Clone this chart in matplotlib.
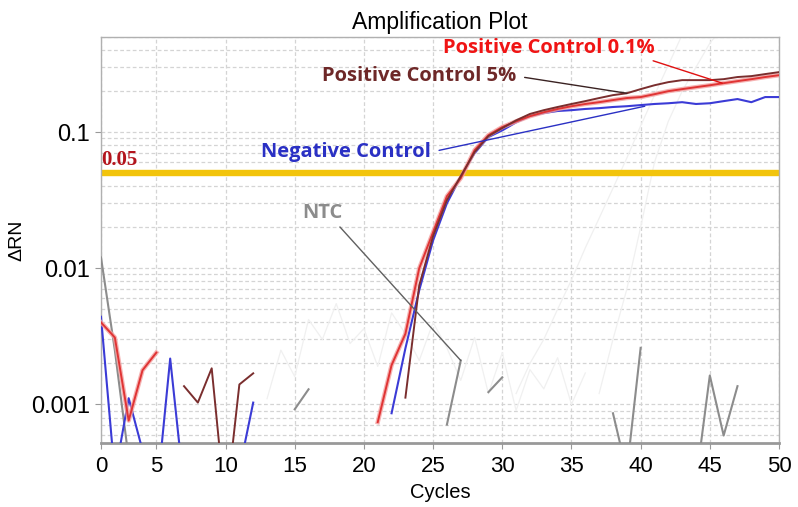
import numpy as np
import matplotlib
matplotlib.use("Agg")
import matplotlib.pyplot as plt
from matplotlib.ticker import FixedLocator, LogLocator, NullFormatter

nan = np.nan

# Cycle numbers (the instrument plot starts at cycle 1)
cycles = np.arange(1, 51)

# Delta Rn per cycle (nan = no point / negative)
ntc = [0.012, 0.0025, 0.0004, nan, nan, nan, nan, nan, nan, nan,
       nan, nan, nan, nan, 0.00092, 0.00129, nan, nan, nan, nan,
       nan, nan, nan, nan, nan, 0.00071, 0.0021, nan, 0.00123, 0.00158,
       nan, nan, nan, nan, nan, nan, nan, 0.00086, 0.00032, 0.0026,
       nan, nan, nan, 0.00027, 0.00163, 0.00059, 0.00136, nan, nan, nan]

pos_01 = [0.0040, 0.0031, 0.00076, 0.00178, 0.0024, nan, nan, nan, nan, nan,
          nan, nan, nan, nan, nan, nan, nan, nan, nan, nan,
          0.00074, 0.00194, 0.0033, 0.0100, 0.0184, 0.0338, 0.0459, 0.0737, 0.095, 0.109,
          0.120, 0.131, 0.140, 0.148, 0.155, 0.161, 0.166, 0.172, 0.178, 0.181,
          0.190, 0.200, 0.207, 0.214, 0.221, 0.229, 0.237, 0.245, 0.254, 0.262]

pos_5 = [nan, nan, nan, nan, nan, nan, 0.00136, 0.00103, 0.00184, 0.00017,
         0.0014, 0.00169, nan, nan, nan, nan, nan, nan, nan, nan,
         nan, nan, 0.00112, 0.0075, 0.0172, 0.0316, 0.0475, 0.0713, 0.0935, 0.107,
         0.122, 0.136, 0.145, 0.153, 0.161, 0.169, 0.178, 0.187, 0.193, 0.207,
         0.221, 0.233, 0.241, 0.241, 0.241, 0.245, 0.254, 0.258, 0.267, 0.276]

neg = [0.0044, 0.00030, 0.00111, 0.00046, 0.0002, 0.00217, 0.00024, nan, nan, nan,
       0.00033, 0.00103, nan, nan, nan, nan, nan, nan, nan, nan,
       nan, 0.00086, 0.00258, 0.0069, 0.016, 0.030, 0.047, 0.070, 0.092, 0.103,
       0.118, 0.131, 0.138, 0.143, 0.145, 0.148, 0.150, 0.153, 0.155, 0.158,
       0.161, 0.163, 0.166, 0.161, 0.163, 0.169, 0.175, 0.166, 0.181, 0.181]

# other wells, drawn very faintly in the background
faint_a = [nan] * 30 + [0.0012, 0.002, 0.003, 0.005, 0.0082, 0.0141, 0.0233, 0.0387,
                        0.0644, 0.111, 0.187, 0.31, 0.52, 0.8, nan, nan, nan, nan, nan, nan]
faint_b = [nan] * 36 + [0.0012, 0.003, 0.007, 0.02, 0.06, 0.12, 0.2, 0.3, 0.45, 0.6,
                        nan, nan, nan, nan]
faint_noise = [nan] * 12 + [0.0011, 0.0025, 0.0016, 0.0042, 0.0030, 0.0055, 0.0028, 0.0036,
                            0.0019, 0.0047, 0.0033, 0.0021, 0.0040, 0.0026, 0.0015, 0.0031,
                            0.0012, 0.0024, 0.0009, 0.0018, 0.0013, 0.0022, 0.0010, 0.0017,
                            nan, nan, nan, nan, nan, nan, nan, nan, nan, nan, nan, nan, nan, nan]

threshold = 0.05
x_ticks = [1, 5, 10, 15, 20, 25, 30, 35, 40, 45, 50]
x_tick_labels = ['0', '5', '10', '15', '20', '25', '30', '35', '40', '45', '50']
y_ticks = [0.001, 0.01, 0.1]
y_tick_labels = ['0.001', '0.01', '0.1']

plt.rcParams['font.family'] = ['Liberation Sans', 'DejaVu Sans']

fig = plt.figure(figsize=(7.98, 5.07), dpi=100)
ax = fig.add_axes([101 / 798, 64 / 507, 678 / 798, 406 / 507])
ax.set_yscale('log', nonpositive='mask')

# background wells
for s in (faint_a, faint_b, faint_noise):
    ax.plot(cycles, s, color='#f0f0f0', lw=0.9, zorder=1)

# threshold
ax.axhline(threshold, color='#f2c40c', lw=4.6, zorder=2)
ax.text(1.0, threshold * 1.06, '0.05', color='#b3141c', fontsize=15, fontweight='bold',
        family='Liberation Serif', ha='left', va='bottom', zorder=6)

ax.plot(cycles, ntc, color='#8c8c8c', lw=1.5, zorder=3)
ax.plot(cycles, neg, color='#3b3bd6', lw=1.5, zorder=4)
ax.plot(cycles, pos_01, color='#f3a0a0', lw=3.2, zorder=4, alpha=0.8)
ax.plot(cycles, pos_01, color='#e03434', lw=1.4, zorder=5)
ax.plot(cycles, pos_5, color='#7a2e2e', lw=1.4, zorder=5)

ax.set_xlim(1, 50)
ax.set_ylim(5.2e-4, 0.5)

ax.xaxis.set_major_locator(FixedLocator(x_ticks))
ax.set_xticklabels(x_tick_labels)
ax.yaxis.set_major_locator(FixedLocator(y_ticks))
ax.set_yticklabels(y_tick_labels)
ax.yaxis.set_minor_locator(LogLocator(base=10, subs=np.arange(2, 10)))
ax.yaxis.set_minor_formatter(NullFormatter())

ax.grid(True, which='major', axis='x', color='#d4d4d4', lw=0.9, ls=(0, (3, 2)))
ax.grid(True, which='both', axis='y', color='#d4d4d4', lw=0.9, ls=(0, (3, 2)))
ax.set_axisbelow(True)

for lab in ax.get_xticklabels():
    lab.set_fontsize(16)
for lab in ax.get_yticklabels():
    lab.set_fontsize(17)
ax.tick_params(axis='x', which='major', length=4, color='#999999', pad=5)
ax.tick_params(axis='y', which='major', length=4, color='#999999', pad=4)
ax.tick_params(axis='y', which='minor', length=0)

for side in ('left', 'right', 'top'):
    ax.spines[side].set_color('#b0b0b0')
    ax.spines[side].set_linewidth(1.0)
ax.spines['bottom'].set_color('#999999')
ax.spines['bottom'].set_linewidth(2.0)

ax.set_title('Amplification Plot', fontsize=16.5, pad=6)
ax.set_xlabel('Cycles', fontsize=14.5, labelpad=5)
ax.set_ylabel('\u0394RN', fontsize=14, labelpad=4)

# labels with leader lines
lab_font = ['Open Sans', 'DejaVu Sans']
lab_size = 14.5
ax.annotate('Positive Control 0.1%', xy=(45.9, 0.229), xytext=(33.4, 0.415),
            color='#f01414', fontsize=lab_size, fontweight='bold', family=lab_font,
            ha='center', va='center', zorder=7,
            arrowprops=dict(arrowstyle='-', color='#e01010', lw=1.0,
                            shrinkA=0, shrinkB=0, relpos=(0.95, 0.0)))
ax.annotate('Positive Control 5%', xy=(39.0, 0.193), xytext=(24.0, 0.258),
            color='#6e2828', fontsize=lab_size, fontweight='bold', family=lab_font,
            ha='center', va='center', zorder=7,
            arrowprops=dict(arrowstyle='-', color='#3a2222', lw=1.0,
                            shrinkA=4, shrinkB=0, relpos=(1.0, 0.5)))
ax.annotate('Negative Control', xy=(40.3, 0.155), xytext=(18.7, 0.0713),
            color='#2a30c4', fontsize=lab_size, fontweight='bold', family=lab_font,
            ha='center', va='center', zorder=7,
            arrowprops=dict(arrowstyle='-', color='#2a30c4', lw=1.0,
                            shrinkA=4, shrinkB=0, relpos=(1.0, 0.5)))
ax.annotate('NTC', xy=(27.0, 0.0021), xytext=(17.0, 0.0254),
            color='#8c8c8c', fontsize=lab_size, fontweight='bold', family=lab_font,
            ha='center', va='center', zorder=7,
            arrowprops=dict(arrowstyle='-', color='#606060', lw=1.0,
                            shrinkA=1, shrinkB=0, relpos=(0.85, 0.0)))

fig.savefig('out.png', dpi=100)
